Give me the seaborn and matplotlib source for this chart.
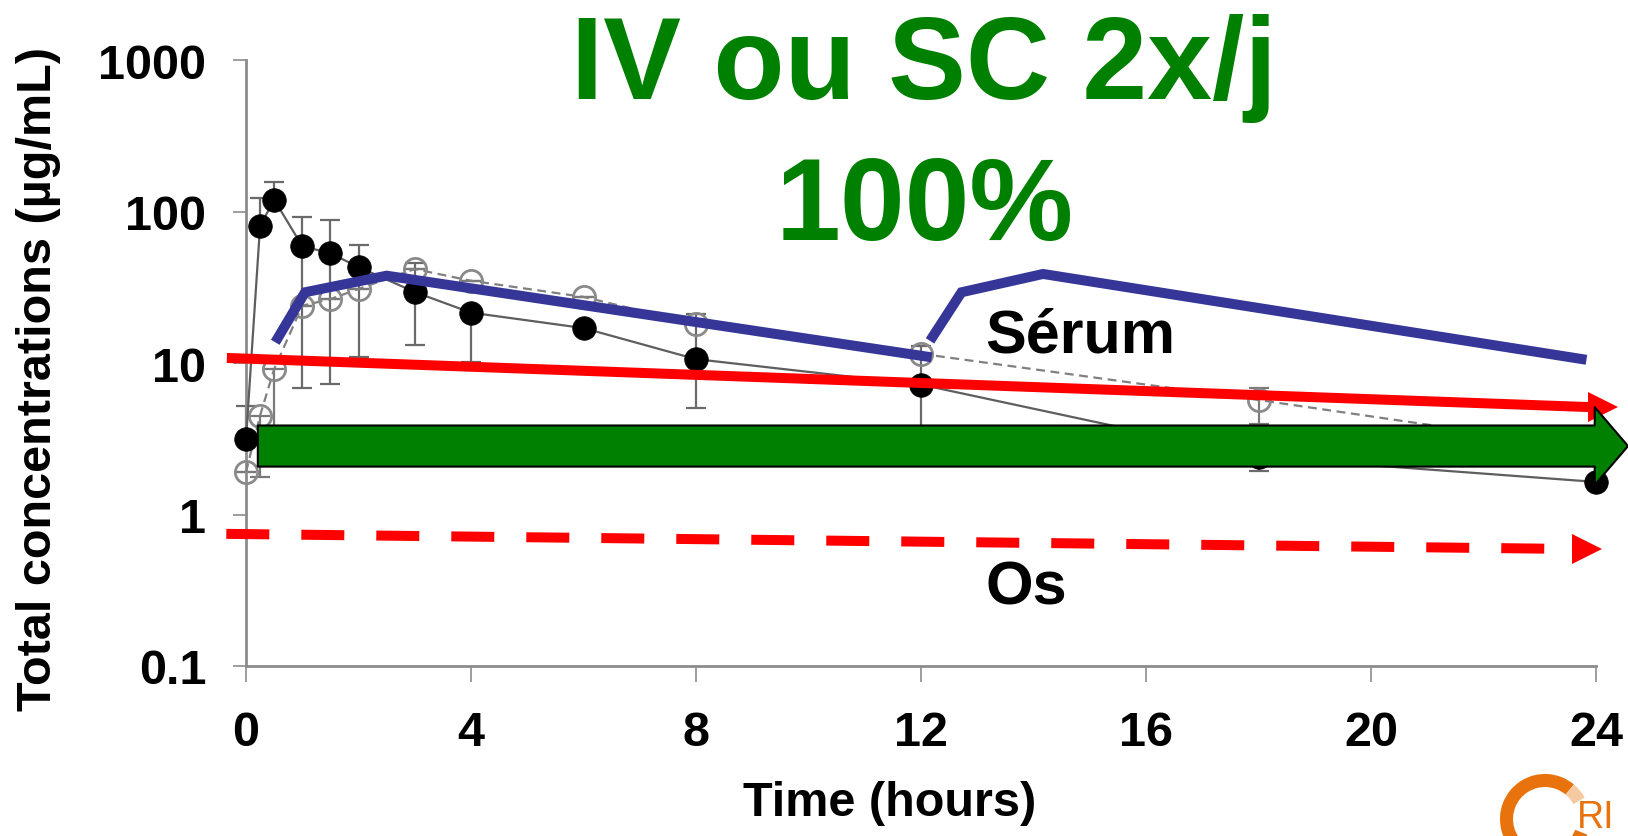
import matplotlib
matplotlib.use("Agg")
import matplotlib.pyplot as plt
import matplotlib.transforms as mtransforms
from matplotlib.patches import Arc
from matplotlib.ticker import FixedLocator, FixedFormatter, NullLocator
import numpy as np
import seaborn as sns

# ---------------- data ----------------
sample_time = [0, 0.25, 0.5, 1, 1.5, 2, 3, 4, 6, 8, 12, 18, 24]

filled_conc = [3.15, 80, 120, 59, 53, 43, 29.4, 21.5, 17, 10.6, 7.2, 2.4, 1.64]
filled_low = [3.15, 80, 120, 6.8, 7.3, 11, 13.1, 10.1, 17, 5.05, 3.0, 1.94, 1.64]
filled_high = [5.2, 123, 157, 92, 88, 60, 45.7, 21.5, 17, 21, 13, 2.4, 1.64]

open_conc = [1.91, 4.5, 9.1, 23.9, 26.4, 30.8, 41.7, 34.9, 27.3, 18.1, 11.5, 5.7, 2.7]
open_low = [1.91, 1.77, 3.7, 23.9, 26.4, 30.8, 41.7, 34.9, 27.3, 18.1, 11.5, 3.96, 2.7]
open_high = [1.91, 4.5, 9.1, 23.9, 26.4, 30.8, 41.7, 34.9, 27.3, 18.1, 11.5, 6.8, 2.7]

# simulated serum profile (two doses)
serum_dose1_t = [0.52, 1.05, 2.5, 12.19]
serum_dose1_c = [13.7, 29.3, 37.7, 10.9]
serum_dose2_t = [12.16, 12.72, 14.17, 23.83]
serum_dose2_c = [14.0, 29.3, 38.7, 10.5]

# red solid threshold (serum) and red dashed (bone)
serum_thr_t = [-0.34, 23.86]
serum_thr_c = [10.8, 5.12]
bone_thr_t = [-0.35, 23.1]
bone_thr_c = [0.745, 0.595]

# green target arrow
target_t = [0.21, 24.57]
target_c = 2.83

x_ticks = [0, 4, 8, 12, 16, 20, 24]
x_tick_labels = ["0", "4", "8", "12", "16", "20", "24"]
y_ticks = [0.1, 1, 10, 100, 1000]
y_tick_labels = ["0.1", "1", "10", "100", "1000"]

title_line1 = "IV ou SC 2x/j"
title_line2 = "100%"
label_serum = "Sérum"
label_bone = "Os"
label_pos_t = 13.14
label_serum_c = 12.0
label_bone_c = 0.257
logo_text = "RI"

# ---------------- style ----------------
sns.set_theme(style="ticks")
plt.rcParams["font.family"] = ["Liberation Sans", "DejaVu Sans"]
plt.rcParams["font.weight"] = "bold"

W, H, DPI = 1628, 837, 100
fig = plt.figure(figsize=(W / DPI, H / DPI), dpi=DPI)
fig.patch.set_facecolor("white")
ax = fig.add_axes([246 / W, 1 - 667 / H, (1596 - 246) / W, (667 - 61) / H])
ax.set_facecolor("white")

GRAY = "#8c8c8c"
BLUE = "#363699"
RED = "#FF0000"
GREEN = "#008000"

# ---------------- measured data ----------------
t = np.array(sample_time)
fc = np.array(filled_conc)
oc = np.array(open_conc)

ax.errorbar(t, fc, yerr=[fc - np.array(filled_low), np.array(filled_high) - fc],
            fmt="none", ecolor="#6a6a6a", elinewidth=1.6, capsize=7, capthick=1.6,
            zorder=2, clip_on=False)
ax.errorbar(t, oc, yerr=[oc - np.array(open_low), np.array(open_high) - oc],
            fmt="none", ecolor="#7a7a7a", elinewidth=1.6, capsize=7, capthick=1.6,
            zorder=2, clip_on=False)

sns.lineplot(x=sample_time, y=open_conc, ax=ax, sort=False, estimator=None,
             color="#808080", lw=1.6, linestyle=(0, (4, 2.5)), marker="o",
             markersize=16, markerfacecolor="none", markeredgecolor="#8a8a8a",
             markeredgewidth=2, zorder=3, clip_on=False)
sns.lineplot(x=sample_time, y=filled_conc, ax=ax, sort=False, estimator=None,
             color="#5e5e5e", lw=1.6, marker="o", markersize=17,
             markerfacecolor="black", markeredgecolor="black", markeredgewidth=0.5,
             zorder=4, clip_on=False)

# ---------------- simulated serum profile ----------------
for tt, cc in [(serum_dose1_t, serum_dose1_c), (serum_dose2_t, serum_dose2_c)]:
    sns.lineplot(x=tt, y=cc, ax=ax, sort=False, estimator=None, color=BLUE, lw=7.2,
                 solid_capstyle="butt", solid_joinstyle="miter", zorder=5, clip_on=False)

# ---------------- thresholds with arrow heads ----------------
ax.plot(serum_thr_t, serum_thr_c, color=RED, lw=7.2, solid_capstyle="butt",
        zorder=6, clip_on=False)
head1 = mtransforms.offset_copy(ax.transData, fig=fig, x=15, y=0, units="dots")
ax.plot([serum_thr_t[-1]], [serum_thr_c[-1]], marker=">", ms=22, mew=0, color=RED,
        transform=head1, zorder=6, clip_on=False)

ax.plot(bone_thr_t, bone_thr_c, color=RED, lw=7.2, linestyle=(0, (4.3, 3.2)),
        dash_capstyle="butt", zorder=6, clip_on=False)
head2 = mtransforms.offset_copy(ax.transData, fig=fig, x=42, y=0, units="dots")
ax.plot([bone_thr_t[-1]], [bone_thr_c[-1]], marker=">", ms=22, mew=0, color=RED,
        transform=head2, zorder=6, clip_on=False)

# green target arrow
ax.annotate("", xy=(target_t[1], target_c), xytext=(target_t[0], target_c),
            xycoords="data", textcoords="data", annotation_clip=False, zorder=7,
            arrowprops=dict(arrowstyle="simple,head_length=1.2,head_width=2.8,tail_width=1.48",
                            mutation_scale=20, fc=GREEN, ec="black", lw=1.5,
                            shrinkA=0, shrinkB=0))

# ---------------- axes ----------------
ax.set_yscale("log")
ax.set_xlim(0, 24)
ax.set_ylim(0.1, 1000)
ax.xaxis.set_major_locator(FixedLocator(x_ticks))
ax.xaxis.set_major_formatter(FixedFormatter(x_tick_labels))
ax.yaxis.set_major_locator(FixedLocator(y_ticks))
ax.yaxis.set_major_formatter(FixedFormatter(y_tick_labels))
ax.yaxis.set_minor_locator(NullLocator())
ax.xaxis.set_minor_locator(NullLocator())
for s in ["top", "right"]:
    ax.spines[s].set_visible(False)
for s in ["left", "bottom"]:
    ax.spines[s].set_color(GRAY)
    ax.spines[s].set_linewidth(2)
ax.tick_params(axis="x", bottom=True, direction="out", length=11.5, width=1.2,
               color=GRAY, pad=20, labelsize=35, labelcolor="black")
ax.tick_params(axis="y", left=True, direction="out", length=9.5, width=1.2,
               color=GRAY, pad=19, labelsize=35, labelcolor="black")
for lbl in ax.get_xticklabels() + ax.get_yticklabels():
    lbl.set_fontweight("bold")

ax.set_xlabel("Time (hours)", fontsize=35, fontweight="bold", color="black")
ax.xaxis.set_label_coords(0.477, -0.188)
ax.set_ylabel("Total concentrations (µg/mL)", fontsize=35, fontweight="bold", color="black")
ax.yaxis.set_label_coords(-0.137, 0.475)

# ---------------- texts ----------------
fig.text(924 / W, 1 - 99 / H, title_line1, ha="center", va="baseline",
         fontsize=84, fontweight="bold", color=GREEN)
fig.text(925 / W, 1 - 240 / H, title_line2, ha="center", va="baseline",
         fontsize=84, fontweight="bold", color=GREEN)
ax.text(label_pos_t, label_serum_c, label_serum, ha="left", va="baseline",
        fontsize=44, fontweight="bold", color="black", zorder=8)
ax.text(label_pos_t, label_bone_c, label_bone, ha="left", va="baseline",
        fontsize=44, fontweight="bold", color="black", zorder=8)

# ---------------- logo (partial, bottom right) ----------------
lx0 = 1490
lax = fig.add_axes([lx0 / W, 0, (W - lx0) / W, 70 / H])
lax.set_xlim(lx0, W)
lax.set_ylim(0, 70)
lax.axis("off")
ORANGE = "#E8720C"
lax.add_patch(Arc((1545, 17), 77, 77, theta1=50, theta2=340, lw=9.4, color=ORANGE))
lax.add_patch(Arc((1545, 17), 77, 77, theta1=28, theta2=50, lw=9.4, color="#F7C9A0"))
lax.text(1577, 1, logo_text, ha="left", va="bottom", fontsize=27, fontweight="normal",
         color=ORANGE)

fig.savefig("out.png", dpi=DPI, facecolor="white")
